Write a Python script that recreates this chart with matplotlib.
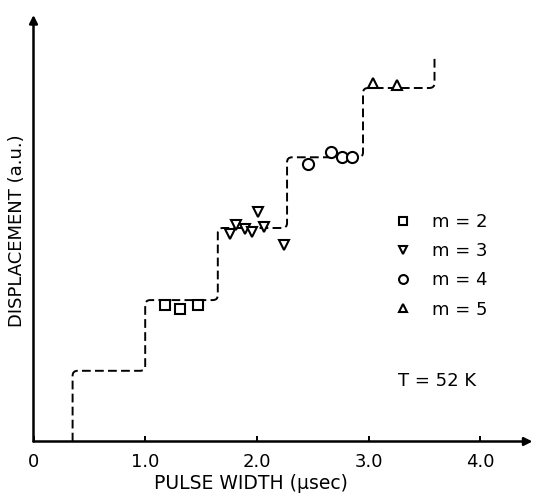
import matplotlib
matplotlib.use("Agg")
import matplotlib.pyplot as plt
from matplotlib.path import Path
from matplotlib.patches import PathPatch

# staircase (theory): x where each step rises, and the plateau levels
step_x = [0.35, 1.00, 1.65, 2.27, 2.95, 3.59]
step_levels = [0.0, 1.00, 2.00, 3.02, 4.02, 5.00, 5.44]

# measured points, per m
m2_x = [1.18, 1.31, 1.47]
m2_y = [1.93, 1.87, 1.93]
m3_x = [1.76, 1.81, 1.89, 1.96, 2.01, 2.06, 2.24]
m3_y = [2.94, 3.06, 3.00, 2.97, 3.25, 3.04, 2.78]
m4_x = [2.46, 2.66, 2.76, 2.85]
m4_y = [3.92, 4.09, 4.02, 4.02]
m5_x = [3.04, 3.25]
m5_y = [5.07, 5.04]

x_ticks = [0, 1, 2, 3, 4]
x_ticklabels = ["0", "1.0", "2.0", "3.0", "4.0"]

plt.rcParams["font.family"] = ["DejaVu Sans"]


def rounded_steps(xs, levels, rx, ry):
    """Build a staircase path with slightly rounded corners."""
    pts = []
    for i, x in enumerate(xs):
        pts.append((x, levels[i]))
        pts.append((x, levels[i + 1]))
    verts = [pts[0]]
    codes = [Path.MOVETO]

    def toward(cx, cy, bx, by):
        dx, dy = bx - cx, by - cy
        if abs(dx) > 0:
            return (cx + rx * (1 if dx > 0 else -1), cy)
        return (cx, cy + ry * (1 if dy > 0 else -1))

    for k in range(1, len(pts) - 1):
        cx, cy = pts[k]
        a = toward(cx, cy, *pts[k - 1])
        b = toward(cx, cy, *pts[k + 1])
        verts += [a, (cx, cy), b]
        codes += [Path.LINETO, Path.CURVE3, Path.CURVE3]
    verts.append(pts[-1])
    codes.append(Path.LINETO)
    return Path(verts, codes)


fig = plt.figure(figsize=(5.34, 4.94), dpi=100)
ax = fig.add_axes([33.5 / 534, (494 - 441.5) / 494, 499 / 534, 426.5 / 494])
ax.set_xlim(0, 499 / 111.7)
ax.set_ylim(0, 426.5 / 70.7)

for s in ax.spines.values():
    s.set_visible(False)

arrow = dict(arrowstyle="-|>", lw=1.8, color="black", mutation_scale=12,
             shrinkA=0, shrinkB=0)
ax.annotate("", xy=(1, 0), xytext=(0, 0), xycoords="axes fraction", arrowprops=arrow)
ax.annotate("", xy=(0, 1), xytext=(0, 0), xycoords="axes fraction", arrowprops=arrow)

path = rounded_steps(step_x, step_levels, 0.045, 0.07)
ax.add_patch(PathPatch(path, fill=False, edgecolor="black", lw=1.4,
                       linestyle=(0, (4.5, 2.2)), zorder=2))

mk = dict(linestyle="none", mfc="white", mec="black", mew=1.5, zorder=3)
h2, = ax.plot(m2_x, m2_y, marker="s", ms=6.5, label="m = 2", **mk)
h3, = ax.plot(m3_x, m3_y, marker="v", ms=7.5, label="m = 3", **mk)
h4, = ax.plot(m4_x, m4_y, marker="o", ms=8, label="m = 4", **mk)
h5, = ax.plot(m5_x, m5_y, marker="^", ms=7.5, label="m = 5", **mk)

ax.legend(handles=[h2, h3, h4, h5], loc="upper left", frameon=False,
          bbox_to_anchor=(394 / 534, (494 - 213) / 494), bbox_transform=fig.transFigure,
          borderpad=0, borderaxespad=0, handlelength=1.0, handletextpad=1.1,
          labelspacing=0.62, markerscale=0.8, fontsize=13)

ax.text(3.26, 0.86, "T = 52 K", fontsize=13, ha="left", va="center")

ax.set_xticks(x_ticks)
ax.set_xticklabels(x_ticklabels)
ax.set_yticks([])
ax.tick_params(axis="x", direction="in", length=4, width=1.4, pad=8, labelsize=13)

fig.text(251 / 534, 1 - 483 / 494, "PULSE WIDTH (\u03bcsec)", fontsize=13.5,
         ha="center", va="center")
fig.text(17 / 534, 1 - 231 / 494, "DISPLACEMENT (a.u.)", fontsize=13,
         ha="center", va="center", rotation=90)

fig.savefig("out.png", dpi=100)
